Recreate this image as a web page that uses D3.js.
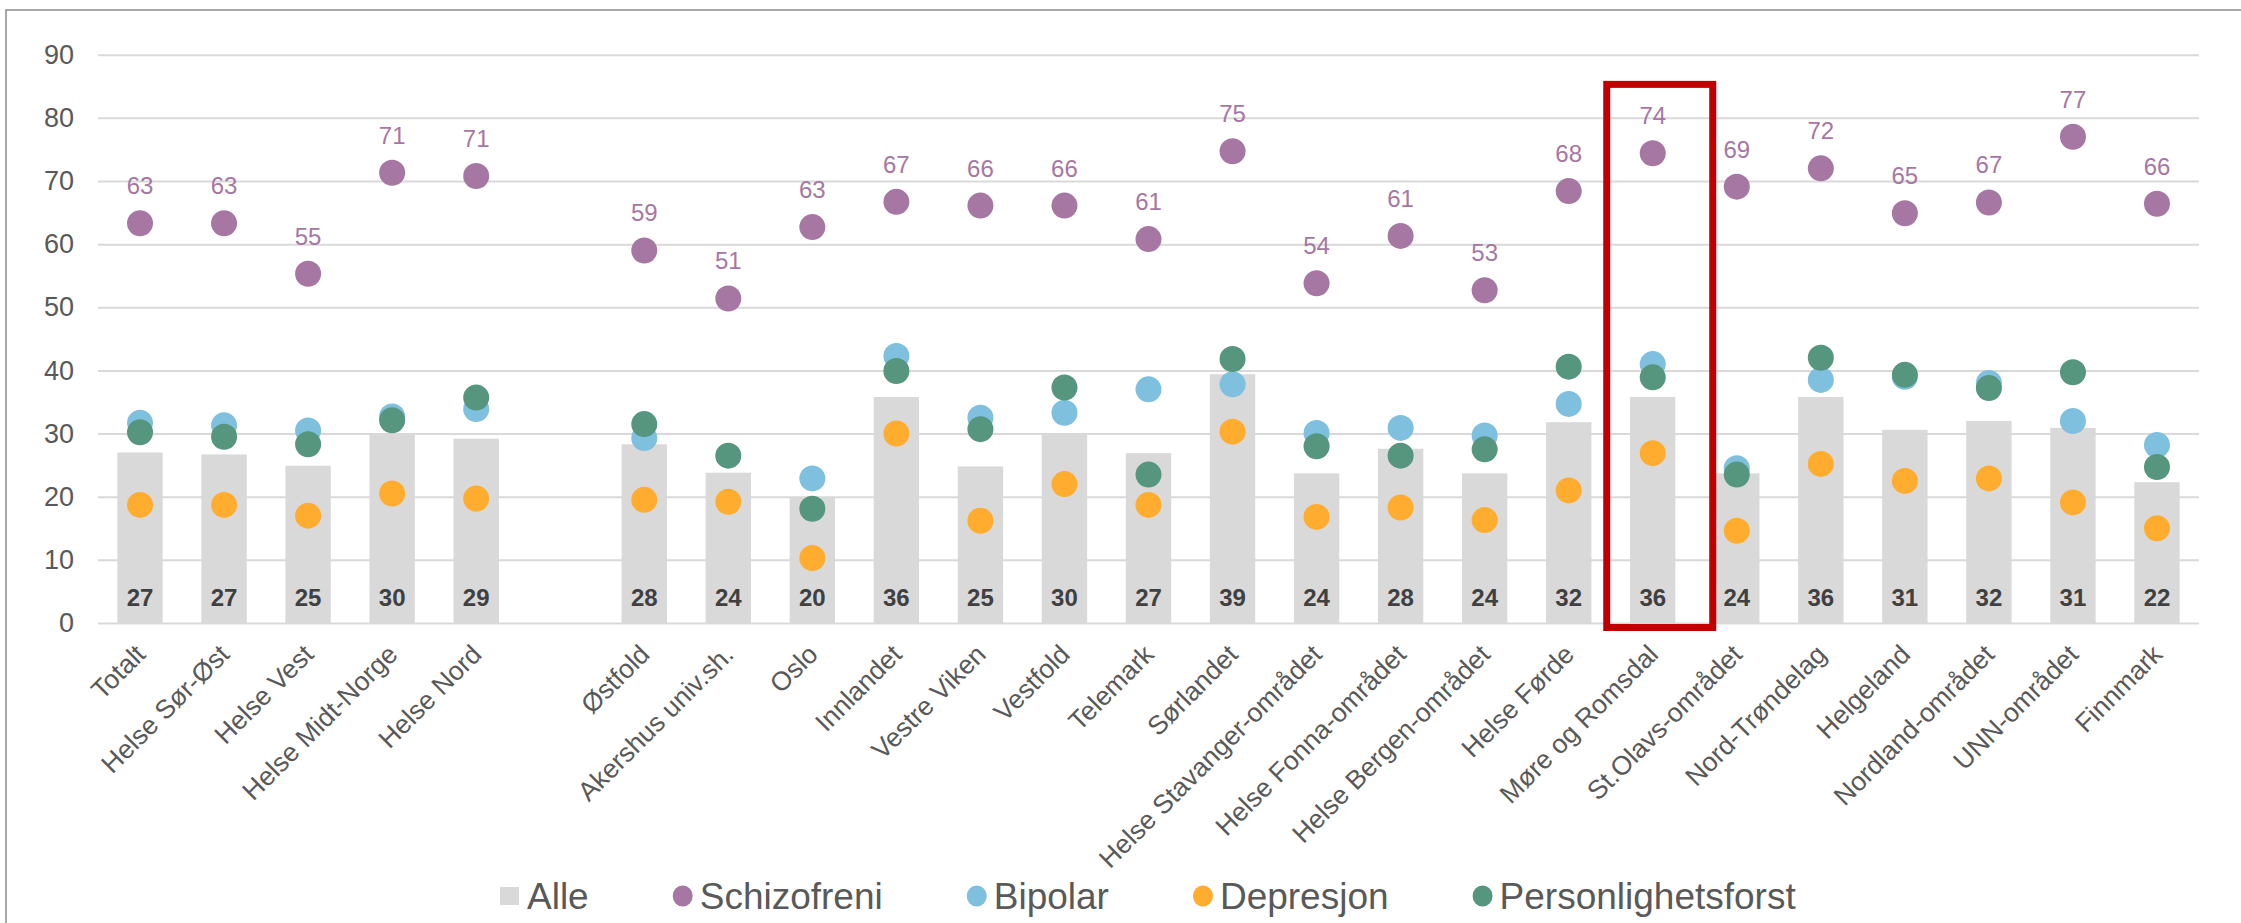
<!DOCTYPE html>
<html>
<head>
<meta charset="utf-8">
<script src="https://cdn.jsdelivr.net/npm/d3@7"></script>
<style>
  html, body { margin: 0; padding: 0; background: #fff; }
  svg { display: block; font-family: "Liberation Sans", Arial, sans-serif; }
</style>
</head>
<body>
<svg id="chart" width="2241" height="923"></svg>
<script>
// ---------- DATA ----------
const categories = [
  "Totalt", "Helse Sør-Øst", "Helse Vest", "Helse Midt-Norge", "Helse Nord", " ",
  "Østfold", "Akershus univ.sh.", "Oslo", "Innlandet", "Vestre Viken", "Vestfold",
  "Telemark", "Sørlandet", "Helse Stavanger-området", "Helse Fonna-området",
  "Helse Bergen-området", "Helse Førde", "Møre og Romsdal", "St.Olavs-området",
  "Nord-Trøndelag", "Helgeland", "Nordland-området", "UNN-området", "Finnmark"
];
const alle = [27.0, 26.7, 24.9, 29.9, 29.2, null,
  28.3, 23.8, 19.8, 35.8, 24.8, 30.0, 26.9, 39.4, 23.7, 27.6, 23.7, 31.8, 35.8, 23.7,
  35.8, 30.6, 32.0, 30.9, 22.3];
const schizofreni = [63.3, 63.3, 55.3, 71.3, 70.8, null,
  59.0, 51.4, 62.7, 66.7, 66.1, 66.1, 60.8, 74.7, 53.8, 61.3, 52.7, 68.4, 74.4, 69.1,
  72.0, 64.9, 66.6, 77.0, 66.4];
const bipolar = [31.7, 31.3, 30.5, 32.7, 33.9, null,
  29.3, null, 22.9, 42.3, 32.5, 33.3, 37.0, 37.8, 30.1, 30.9, 29.7, 34.7, 41.0, 24.5,
  38.5, 39.0, 38.0, 32.0, 28.2];
const depresjon = [18.7, 18.7, 17.0, 20.5, 19.7, null,
  19.5, 19.2, 10.3, 30.0, 16.2, 22.0, 18.7, 30.3, 16.8, 18.3, 16.3, 21.0, 26.9, 14.6,
  25.2, 22.5, 22.9, 19.1, 15.0];
const personlighetsforst = [30.2, 29.5, 28.3, 32.1, 35.7, null,
  31.5, 26.5, 18.1, 39.9, 30.7, 37.3, 23.5, 41.8, 28.0, 26.5, 27.5, 40.6, 38.9, 23.5,
  42.0, 39.3, 37.2, 39.7, 24.7];
const yTicks = [0, 10, 20, 30, 40, 50, 60, 70, 80, 90];
const highlightCategory = "Møre og Romsdal";

const seriesNames = ["Alle", "Schizofreni", "Bipolar", "Depresjon", "Personlighetsforst"];
const colors = {
  "Alle": "#D9D9D9",
  "Schizofreni": "#A677A3",
  "Bipolar": "#7EC0DE",
  "Depresjon": "#FFAC2F",
  "Personlighetsforst": "#56957E"
};

// ---------- LAYOUT ----------
const svg = d3.select("#chart");
const plotLeft = 98, plotRight = 2199, plotTop = 54.7, plotBottom = 623;

const x = d3.scaleBand().domain(categories).range([plotLeft, plotRight])
  .paddingInner(0.46).paddingOuter(0.23);
const y = d3.scaleLinear().domain([0, 90]).range([plotBottom, plotTop]);
const cx = c => x(c) + x.bandwidth() / 2;

// outer border
svg.append("rect").attr("x", 6).attr("y", 10).attr("width", 2260).attr("height", 940)
  .attr("fill", "none").attr("stroke", "#8a8a8a").attr("stroke-width", 1.5);

// gridlines + y labels via axis
const yAxis = d3.axisLeft(y).tickValues(yTicks).tickSize(-(plotRight - plotLeft)).tickPadding(24);
const gY = svg.append("g").attr("transform", `translate(${plotLeft},0)`).call(yAxis);
gY.select(".domain").remove();
gY.selectAll(".tick line").attr("stroke", "#D9D9D9").attr("stroke-width", 2);
gY.selectAll(".tick text").attr("fill", "#595959").attr("font-size", 27)
  .attr("font-family", "Liberation Sans, Arial, sans-serif");

// rows
const rows = categories.map((c, i) => ({
  c, alle: alle[i], schizofreni: schizofreni[i], bipolar: bipolar[i],
  depresjon: depresjon[i], personlighetsforst: personlighetsforst[i]
}));

// bars
svg.append("g").selectAll("rect").data(rows.filter(d => d.alle != null)).join("rect")
  .attr("x", d => x(d.c)).attr("width", x.bandwidth())
  .attr("y", d => y(d.alle)).attr("height", d => y(0) - y(d.alle))
  .attr("fill", colors["Alle"]);

// bar labels
svg.append("g").selectAll("text").data(rows.filter(d => d.alle != null)).join("text")
  .attr("x", d => cx(d.c)).attr("y", y(0) - 17)
  .attr("text-anchor", "middle").attr("font-size", 24).attr("font-weight", "bold")
  .attr("fill", "#404040")
  .text(d => d3.format(".0f")(d.alle));

// points
const pointSeries = [
  ["Schizofreni", "schizofreni"],
  ["Bipolar", "bipolar"],
  ["Depresjon", "depresjon"],
  ["Personlighetsforst", "personlighetsforst"]
];
pointSeries.forEach(([name, key]) => {
  svg.append("g").selectAll("circle").data(rows.filter(d => d[key] != null)).join("circle")
    .attr("cx", d => cx(d.c)).attr("cy", d => y(d[key])).attr("r", 13)
    .attr("fill", colors[name]);
});

// schizofreni labels
svg.append("g").selectAll("text").data(rows.filter(d => d.schizofreni != null)).join("text")
  .attr("x", d => cx(d.c)).attr("y", d => y(d.schizofreni) - 29)
  .attr("text-anchor", "middle").attr("font-size", 24)
  .attr("fill", colors["Schizofreni"])
  .text(d => d3.format(".0f")(d.schizofreni));

// category labels
svg.append("g").selectAll("text").data(categories.filter(c => c.trim() !== "")).join("text")
  .attr("transform", c => `translate(${cx(c) + 7},${plotBottom + 33}) rotate(-45)`)
  .attr("text-anchor", "end").attr("font-size", 26.5).attr("fill", "#595959")
  .text(c => c);

// highlight rectangle
const hx = cx(highlightCategory);
svg.append("rect")
  .attr("x", hx - 46).attr("y", y(85.3))
  .attr("width", 106).attr("height", (y(0) + 4.5) - y(85.3))
  .attr("fill", "none").attr("stroke", "#C00000").attr("stroke-width", 7);

// legend
const legend = svg.append("g").attr("transform", "translate(500,0)");
let lx = 0;
const ly = 896;
seriesNames.forEach(name => {
  const g = legend.append("g").attr("transform", `translate(${lx},0)`);
  if (name === "Alle") {
    g.append("rect").attr("x", 0).attr("y", ly - 9).attr("width", 19).attr("height", 18)
      .attr("fill", colors[name]);
  } else {
    g.append("ellipse").attr("cx", 10).attr("cy", ly).attr("rx", 10).attr("ry", 10.5)
      .attr("fill", colors[name]);
  }
  const t = g.append("text").attr("x", 27).attr("y", ly + 12.5)
    .attr("font-size", 37).attr("fill", "#595959").text(name);
  lx += 27 + t.node().getComputedTextLength() + 84;
});
</script>
</body>
</html>
